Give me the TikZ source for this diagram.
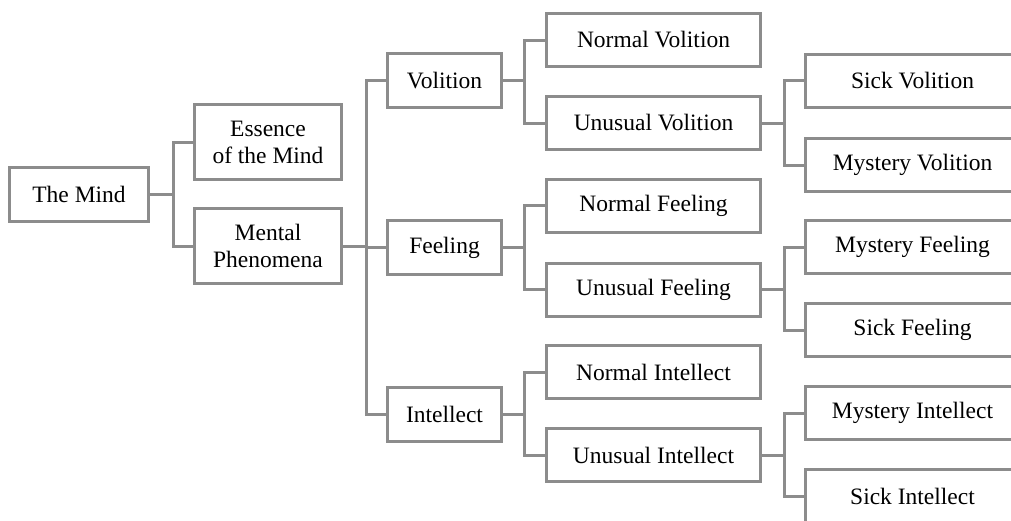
\documentclass[tikz,border=0pt]{standalone}
\usepackage{fontspec}
\setmainfont{Liberation Serif}
\usetikzlibrary{calc}
\definecolor{linegray}{RGB}{140,140,140}
\begin{document}
\begin{tikzpicture}[x=1pt,y=-1pt,
  box/.style={draw=linegray, line width=3pt, fill=white, inner sep=0pt,
    align=center, text=black, font=\fontsize{23.5}{27}\selectfont},
  rootbox/.style={box, minimum width=139pt, minimum height=54pt},
  twobox/.style={box, minimum width=147pt, minimum height=75pt},
  midbox/.style={box, minimum width=114pt, minimum height=54pt},
  widebox/.style={box, minimum width=214pt, minimum height=53pt},
  link/.style={draw=linegray, line width=3pt}]
\useasboundingbox (0,0) rectangle (1011,520);
\clip (0,0) rectangle (1011,520);

% tree nodes
\node[rootbox] (mind) at (79,194.5) {The Mind};
\node[twobox] (essence) at (268,142) {Essence\\of the Mind};
\node[twobox] (mental) at (268,246) {Mental\\Phenomena};

\node[midbox] (volition) at (444.5,80.5) {Volition};
\node[midbox] (feeling) at (444.5,247.5) {Feeling};
\node[midbox] (intellect) at (444.5,414) {Intellect};

\node[widebox] (nvol) at (653.5,40) {Normal Volition};
\node[widebox] (uvol) at (653.5,123) {Unusual Volition};
\node[widebox] (nfeel) at (653.5,205.5) {Normal Feeling};
\node[widebox] (ufeel) at (653.5,289.5) {Unusual Feeling};
\node[widebox] (nint) at (653.5,372) {Normal Intellect};
\node[widebox] (uint) at (653.5,455) {Unusual Intellect};

\node[widebox] (svol) at (912.5,80.5) {Sick Volition};
\node[widebox] (mvol) at (912.5,165) {Mystery Volition};
\node[widebox] (mfeel) at (912.5,247) {Mystery Feeling};
\node[widebox] (sfeel) at (912.5,330) {Sick Feeling};
\node[widebox] (mint) at (912.5,413) {Mystery Intellect};
\node[widebox] (sint) at (912.5,496) {Sick Intellect};

% branching points
\coordinate (bMind) at ($(mind.east)+(23.5,0)$);
\coordinate (bMental) at ($(mental.east)+(23.5,0)$);
\coordinate (bVol) at ($(volition.east)+(21.5,0)$);
\coordinate (bFeel) at ($(feeling.east)+(21.5,0)$);
\coordinate (bInt) at ($(intellect.east)+(21.5,0)$);
\coordinate (bUVol) at ($(uvol.east)+(22.5,0)$);
\coordinate (bUFeel) at ($(ufeel.east)+(22.5,0)$);
\coordinate (bUInt) at ($(uint.east)+(22.5,0)$);

% connectors
\draw[link] (mind.east) -- (bMind) |- (essence.west);
\draw[link] (bMind) |- (mental.west);

\draw[link] (mental.east) -- (bMental) |- (volition.west);
\draw[link] (bMental) |- (feeling.west);
\draw[link] (bMental) |- (intellect.west);

\draw[link] (volition.east) -- (bVol) |- (nvol.west);
\draw[link] (bVol) |- (uvol.west);
\draw[link] (feeling.east) -- (bFeel) |- (nfeel.west);
\draw[link] (bFeel) |- (ufeel.west);
\draw[link] (intellect.east) -- (bInt) |- (nint.west);
\draw[link] (bInt) |- (uint.west);

\draw[link] (uvol.east) -- (bUVol) |- (svol.west);
\draw[link] (bUVol) |- (mvol.west);
\draw[link] (ufeel.east) -- (bUFeel) |- (mfeel.west);
\draw[link] (bUFeel) |- (sfeel.west);
\draw[link] (uint.east) -- (bUInt) |- (mint.west);
\draw[link] (bUInt) |- (sint.west);
\end{tikzpicture}
\end{document}
